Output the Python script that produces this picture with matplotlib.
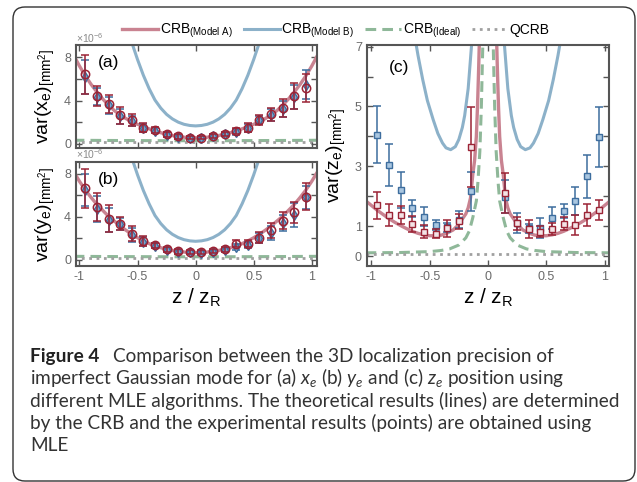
import matplotlib
matplotlib.use("Agg")
import matplotlib.pyplot as plt
import numpy as np
from matplotlib.lines import Line2D
from matplotlib.patches import FancyBboxPatch

plt.rcParams['font.family'] = ['Liberation Sans', 'DejaVu Sans']
plt.rcParams['mathtext.fontset'] = 'custom'
plt.rcParams['mathtext.rm'] = 'Liberation Sans'
plt.rcParams['mathtext.it'] = 'Lato:italic'

# ---- theory curves, panels (a) and (b) ----
z_xy = [-1.05, -1.0, -0.95, -0.9, -0.85, -0.8, -0.75, -0.7, -0.65, -0.6, -0.55, -0.5, -0.45, -0.4,
        -0.35, -0.3, -0.25, -0.2, -0.15, -0.1, -0.05, 0.0, 0.05, 0.1, 0.15, 0.2, 0.25, 0.3, 0.35,
        0.4, 0.45, 0.5, 0.55, 0.6, 0.65, 0.7, 0.75, 0.8, 0.85, 0.9, 0.95, 1.0, 1.05]
crbA_x = [8.2, 7.2, 6.3, 5.5, 4.8, 4.15, 3.58, 3.07, 2.66, 2.33, 2.05, 1.8, 1.58, 1.38,
          1.19, 1.02, 0.88, 0.76, 0.67, 0.6, 0.57, 0.56, 0.57, 0.6, 0.67, 0.76, 0.88, 1.02, 1.19,
          1.38, 1.58, 1.8, 2.05, 2.33, 2.66, 3.07, 3.58, 4.15, 4.8, 5.5, 6.3, 7.2, 8.2]
crbA_y = [8.2, 7.3, 6.5, 5.8, 5.15, 4.6, 4.05, 3.6, 3.15, 2.75, 2.38, 2.05, 1.75, 1.5,
          1.28, 1.12, 0.98, 0.87, 0.78, 0.72, 0.69, 0.68, 0.69, 0.72, 0.78, 0.87, 0.98, 1.12, 1.28,
          1.5, 1.75, 2.05, 2.38, 2.75, 3.15, 3.6, 4.05, 4.6, 5.15, 5.8, 6.5, 7.3, 8.2]

z_b = [-0.6, -0.55, -0.5, -0.45, -0.4, -0.35, -0.3, -0.25, -0.2, -0.15, -0.1, -0.05, 0.0,
       0.05, 0.1, 0.15, 0.2, 0.25, 0.3, 0.35, 0.4, 0.45, 0.5, 0.55, 0.6]
crbB_x = [11.2, 9.4, 7.8, 6.35, 5.1, 4.05, 3.3, 2.72, 2.3, 2.0, 1.8, 1.69, 1.65,
          1.69, 1.8, 2.0, 2.3, 2.72, 3.3, 4.05, 5.1, 6.35, 7.8, 9.4, 11.2]
crbB_y = [11.3, 9.5, 7.9, 6.45, 5.2, 4.12, 3.37, 2.79, 2.37, 2.07, 1.87, 1.76, 1.72,
          1.76, 1.87, 2.07, 2.37, 2.79, 3.37, 4.12, 5.2, 6.45, 7.9, 9.5, 11.3]

z_id = [-1.05, -0.75, -0.5, -0.25, 0.0, 0.25, 0.5, 0.75, 1.05]
ideal_xy = [0.32, 0.3, 0.29, 0.28, 0.28, 0.28, 0.29, 0.3, 0.32]
qcrb_xy = [0.12, 0.12, 0.12, 0.12, 0.12, 0.12, 0.12, 0.12, 0.12]

# ---- measured points, panels (a) and (b) ----
z_pts = [-0.95, -0.85, -0.75, -0.65, -0.55, -0.45, -0.35, -0.25, -0.15, -0.05,
         0.05, 0.15, 0.25, 0.35, 0.45, 0.55, 0.65, 0.75, 0.85, 0.95]
xa_red = [6.42, 4.46, 3.66, 2.63, 2.17, 1.49, 1.24, 0.87, 0.68, 0.56,
          0.56, 0.71, 0.93, 1.15, 1.49, 2.23, 2.73, 3.31, 4.43, 5.2]
xa_red_err = [1.8, 0.92, 0.85, 0.8, 0.55, 0.4, 0.28, 0.25, 0.2, 0.15,
              0.15, 0.18, 0.2, 0.28, 0.4, 0.45, 0.6, 0.8, 1.2, 1.3]
xa_blue = [6.2, 4.35, 3.55, 2.55, 2.1, 1.45, 1.2, 0.85, 0.6, 0.55,
           0.55, 0.7, 0.92, 1.1, 1.45, 2.2, 2.7, 3.25, 4.35, 5.45]
xa_blue_err = [1.6, 0.8, 0.75, 0.7, 0.5, 0.35, 0.25, 0.22, 0.18, 0.14,
               0.14, 0.16, 0.18, 0.25, 0.35, 0.4, 0.55, 0.75, 1.1, 1.35]
yb_red = [6.65, 4.87, 3.84, 3.37, 2.44, 1.74, 1.34, 0.97, 0.78, 0.72,
          0.72, 0.81, 0.97, 1.5, 1.5, 2.06, 2.75, 3.62, 4.4, 5.87]
yb_red_err = [1.8, 1.3, 1.25, 0.6, 0.72, 0.44, 0.26, 0.25, 0.2, 0.18,
              0.18, 0.2, 0.22, 0.3, 0.3, 0.5, 0.7, 0.8, 1.0, 1.25]
yb_blue = [6.5, 4.7, 3.7, 3.3, 2.3, 1.7, 1.3, 0.9, 0.72, 0.68,
           0.65, 0.75, 0.92, 1.2, 1.4, 2.0, 2.5, 3.4, 4.15, 5.8]
yb_blue_err = [1.5, 1.2, 1.1, 0.55, 0.65, 0.4, 0.25, 0.22, 0.18, 0.16,
               0.16, 0.18, 0.2, 0.28, 0.28, 0.45, 0.65, 0.75, 1.1, 1.1]

# ---- panel (c) ----
z_cA = [-1.05, -1.0, -0.95, -0.9, -0.85, -0.8, -0.75, -0.7, -0.65, -0.6, -0.55, -0.5, -0.45,
        -0.4, -0.35, -0.3, -0.26, -0.22, -0.19, -0.17, -0.15, -0.13, -0.115, -0.1, -0.09,
        -0.08, -0.07, -0.06, None,
        0.06, 0.07, 0.08, 0.09, 0.1, 0.115, 0.13, 0.15, 0.17, 0.19, 0.22, 0.26, 0.3, 0.35,
        0.4, 0.45, 0.5, 0.55, 0.6, 0.65, 0.7, 0.75, 0.8, 0.85, 0.9, 0.95, 1.0, 1.05]
crbA_z = [1.86, 1.7, 1.54, 1.4, 1.26, 1.14, 1.03, 0.93, 0.84, 0.77, 0.72, 0.69, 0.69,
          0.71, 0.78, 0.88, 1.03, 1.25, 1.42, 1.62, 1.95, 2.75, 3.2, 4.0, 5.0,
          6.3, 7.8, 9.5, None,
          9.5, 7.8, 6.3, 5.0, 4.0, 3.2, 2.75, 1.95, 1.62, 1.42, 1.25, 1.03, 0.88, 0.78,
          0.71, 0.69, 0.69, 0.72, 0.77, 0.84, 0.93, 1.03, 1.14, 1.26, 1.4, 1.54, 1.7, 1.86]
z_cB = [-0.66, -0.62, -0.6, -0.56, -0.52, -0.47, -0.43, -0.39, -0.36, -0.32, -0.28, -0.25,
        -0.22, -0.2, -0.17, -0.14, -0.12, None,
        0.12, 0.14, 0.17, 0.2, 0.22, 0.25, 0.28, 0.32, 0.36, 0.39, 0.43, 0.47, 0.52,
        0.56, 0.6, 0.62, 0.66]
crbB_z = [8.2, 7.15, 6.7, 5.9, 5.2, 4.56, 4.1, 3.78, 3.62, 3.56, 3.66, 3.9,
          4.3, 4.7, 5.6, 7.1, 9.0, None,
          9.0, 7.1, 5.6, 4.7, 4.3, 3.9, 3.66, 3.56, 3.62, 3.78, 4.1, 4.56, 5.2,
          5.9, 6.7, 7.15, 8.2]
z_cI = [-1.05, -0.75, -0.5, -0.4, -0.33, -0.25, -0.19, -0.16, -0.13, -0.1, -0.086, -0.07,
        -0.057, -0.045, -0.035, None,
        0.035, 0.045, 0.057, 0.07, 0.086, 0.1, 0.13, 0.16, 0.19, 0.25, 0.33, 0.4, 0.5,
        0.75, 1.05]
ideal_z = [0.12, 0.13, 0.16, 0.2, 0.25, 0.38, 0.62, 0.85, 1.3, 1.85, 2.5, 3.5,
           5.0, 7.0, 9.0, None,
           9.0, 7.0, 5.0, 3.5, 2.5, 1.85, 1.3, 0.85, 0.62, 0.38, 0.25, 0.2, 0.16,
           0.13, 0.12]
z_q = [-1.05, 1.05]
qcrb_z = [0.07, 0.07]

z_pts_c = [-0.95, -0.85, -0.75, -0.65, -0.55, -0.45, -0.35, -0.25, -0.15,
           0.15, 0.25, 0.35, 0.45, 0.55, 0.65, 0.75, 0.85, 0.95]
zc_red = [1.70, 1.39, 1.37, 1.09, 0.83, 0.76, 0.94, 1.17, 3.65,
          2.11, 1.11, 0.91, 0.83, 0.91, 1.09, 1.06, 1.39, 1.56]
zc_red_err = [0.46, 0.37, 0.3, 0.27, 0.22, 0.15, 0.28, 0.24, 1.33,
              0.66, 0.22, 0.3, 0.17, 0.2, 0.22, 0.33, 0.37, 0.33]
zc_blue = [4.06, 3.06, 2.22, 1.61, 1.33, 1.06, 0.98, 1.22, 2.17,
           1.99, 1.11, 0.94, 0.94, 1.28, 1.52, 1.86, 2.67, 3.98]
zc_blue_err = [0.95, 0.7, 0.61, 0.28, 0.33, 0.17, 0.15, 0.28, 0.64,
               0.55, 0.33, 0.15, 0.33, 0.37, 0.24, 0.47, 0.71, 1.0]

c_A = '#c98391'
c_B = '#8cb1c9'
c_I = '#8fb899'
c_Q = '#a0a0a0'
c_red = '#9b2335'
c_blue = '#3d6d9e'
c_frame = '#555555'

fig = plt.figure(figsize=(6.37, 4.82), dpi=100)

# background frame + caption (pixel coordinates)
bg = fig.add_axes([0, 0, 1, 1])
bg.set_xlim(0, 637)
bg.set_ylim(482, 0)
bg.axis('off')
bg.add_patch(FancyBboxPatch((13, 7), 622, 474, boxstyle='round,pad=0,rounding_size=12',
                            fc='white', ec='#333333', lw=1.0))

cap_font = 'Lato'
cap_size = 13.7
bg.text(30, 362, 'Figure 4', fontfamily=cap_font, fontweight='bold', fontsize=cap_size,
        color='#222222', va='baseline')
bg.text(113, 362, 'Comparison between the 3D localization precision of', fontfamily=cap_font,
        fontsize=cap_size, color='#333333', va='baseline')
cap_lines = [r'imperfect Gaussian mode for (a) $x_e$ (b) $y_e$ and (c) $z_e$ position using',
             'different MLE algorithms. The theoretical results (lines) are determined',
             'by the CRB and the experimental results (points) are obtained using',
             'MLE']
for i, s in enumerate(cap_lines):
    bg.text(30, 384.3 + 22.3 * i, s, fontfamily=cap_font, fontsize=cap_size,
            color='#333333', va='baseline')


def style(ax):
    for sp in ax.spines.values():
        sp.set_color(c_frame)
        sp.set_linewidth(1.5)
    ax.tick_params(direction='in', length=4, width=1, color=c_frame, labelcolor='#6a6a6a',
                   labelsize=9, top=True, right=True)


def draw_xy(ax, crbA, crbB, red, red_err, blue, blue_err, ylab, tag):
    ax.plot(z_b, crbB, color=c_B, lw=2.2, zorder=1)
    ax.plot(z_id, ideal_xy, color=c_I, lw=2.2, dashes=(3.5, 2), zorder=1)
    ax.plot(z_id, qcrb_xy, color=c_Q, lw=2, ls=':', zorder=1)
    ax.plot(z_xy, crbA, color=c_A, lw=2.4, zorder=2)
    ax.errorbar(z_pts, blue, yerr=blue_err, fmt='d', ms=5, mfc='#7ea6cc', mec=c_blue,
                ecolor=c_blue, elinewidth=1.1, capsize=3, capthick=1.1, zorder=3)
    ax.errorbar(z_pts, red, yerr=red_err, fmt='o', ms=6, mfc='none', mec=c_red, mew=1.1,
                ecolor=c_red, elinewidth=1.1, capsize=3, capthick=1.1, zorder=4)
    ax.set_xlim(-1.03, 1.045)
    ax.set_yticks([0, 2, 4, 6, 8])
    ax.set_yticklabels(['0', '', '4', '', '8'])
    ax.set_xticks([-1, -0.5, 0, 0.5, 1])
    ax.set_ylabel(ylab, fontsize=14, labelpad=5)
    ax.text(0.09, 0.83, tag, transform=ax.transAxes, fontsize=12.5, va='center')
    ax.text(0.0, 1.005, r'$\times$10$^{\mathregular{-6}}$', transform=ax.transAxes,
            fontsize=7.5, color='#8a8a8a', va='bottom')
    style(ax)


ylab_tmpl = r'var({0}$_\mathregular{{e}}$)$_{{\mathregular{{[mm}}^{{\mathregular{{2}}}}\mathregular{{]}}}}$'

ax_a = fig.add_axes([0.1193, 0.6929, 0.3783, 0.2137])
draw_xy(ax_a, crbA_x, crbB_x, xa_red, xa_red_err, xa_blue, xa_blue_err,
        ylab_tmpl.format('x'), '(a)')
ax_a.set_ylim(-0.4, 9.15)
ax_a.set_xticklabels([])

ax_b = fig.add_axes([0.1193, 0.4488, 0.3783, 0.2151])
draw_xy(ax_b, crbA_y, crbB_y, yb_red, yb_red_err, yb_blue, yb_blue_err,
        ylab_tmpl.format('y'), '(b)')
ax_b.set_ylim(-0.55, 9.1)
ax_b.set_xticklabels(['-1', '-0.5', '0', '0.5', '1'])
ax_b.set_xlabel(r'z / z$_\mathregular{R}$', fontsize=15, labelpad=3)

ax_c = fig.add_axes([0.5757, 0.4481, 0.3808, 0.4585])
ax_c.plot(z_cB, crbB_z, color=c_B, lw=2.2, zorder=1)
ax_c.plot(z_cI, ideal_z, color=c_I, lw=2.2, dashes=(3.5, 2), zorder=1)
ax_c.plot(z_q, qcrb_z, color=c_Q, lw=2, ls=':', zorder=1)
ax_c.plot(z_cA, crbA_z, color=c_A, lw=2.4, zorder=2)
ax_c.errorbar(z_pts_c, zc_blue, yerr=zc_blue_err, fmt='s', ms=4.5, mfc='#a9c6e0', mec=c_blue,
              ecolor=c_blue, elinewidth=1.1, capsize=3, capthick=1.1, zorder=3)
ax_c.errorbar(z_pts_c, zc_red, yerr=zc_red_err, fmt='s', ms=4.5, mfc='#f3e3e6', mec=c_red,
              ecolor=c_red, elinewidth=1.1, capsize=3, capthick=1.1, zorder=4)
ax_c.set_xlim(-1.04, 1.04)
ax_c.set_ylim(-0.32, 7.05)
ax_c.set_yticks([0, 1, 2, 3, 4, 5, 6, 7])
ax_c.set_yticklabels(['0', '1', '', '3', '', '5', '', '7'])
ax_c.set_xticks([-1, -0.5, 0, 0.5, 1])
ax_c.set_xticklabels(['-1', '-0.5', '0', '0.5', '1'])
ax_c.set_ylabel(ylab_tmpl.format('z'), fontsize=14, labelpad=5)
ax_c.set_xlabel(r'z / z$_\mathregular{R}$', fontsize=15, labelpad=3)
ax_c.text(0.09, 0.9, '(c)', transform=ax_c.transAxes, fontsize=12.5, va='center')
style(ax_c)

handles = [Line2D([], [], color=c_A, lw=2.4),
           Line2D([], [], color=c_B, lw=2.2),
           Line2D([], [], color=c_I, lw=2.2, dashes=(3.5, 2)),
           Line2D([], [], color=c_Q, lw=2, ls=':')]
labels = [r'CRB$_\mathregular{(Model\ A)}$', r'CRB$_\mathregular{(Model\ B)}$',
          r'CRB$_\mathregular{(Ideal)}$', 'QCRB']
fig.legend(handles, labels, loc='center', bbox_to_anchor=(336 / 637, 1 - 31 / 482), ncol=4,
           frameon=False, fontsize=10, handlelength=2.6, handletextpad=0.1,
           columnspacing=0.8)

fig.savefig('out.png', dpi=100)
